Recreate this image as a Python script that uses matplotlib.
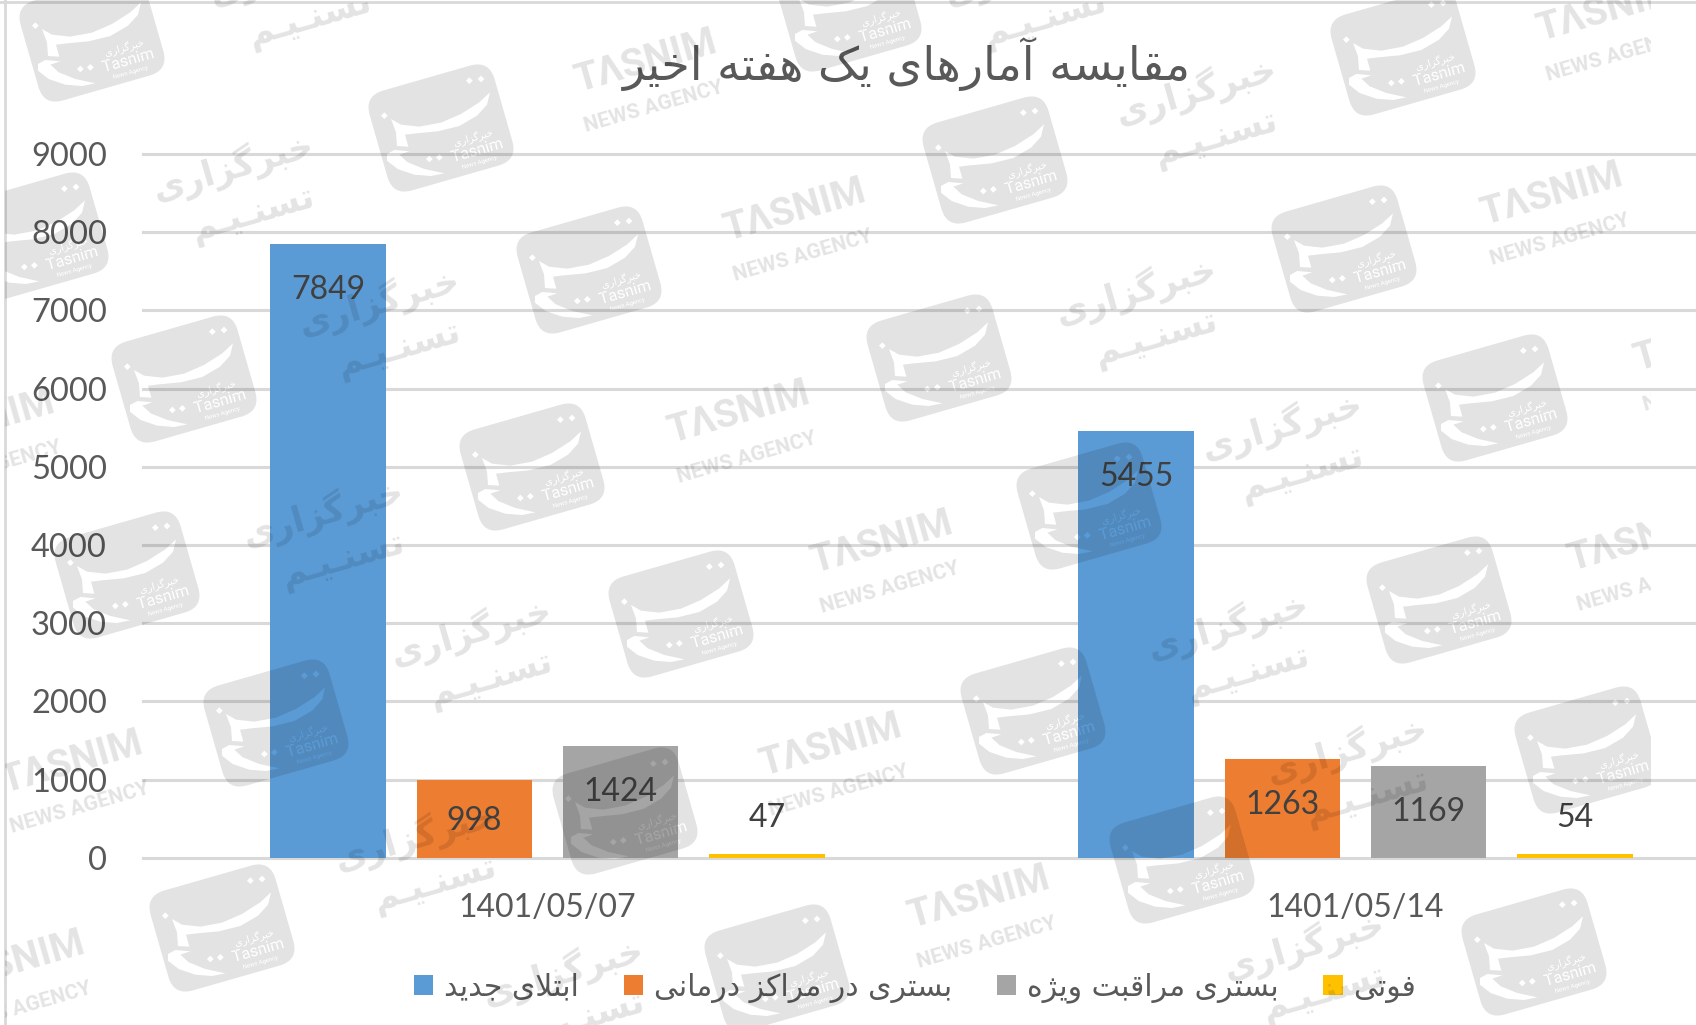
import matplotlib
matplotlib.use("Agg")
import matplotlib.pyplot as plt
from matplotlib.font_manager import FontProperties
from matplotlib.lines import Line2D
from matplotlib.patches import FancyBboxPatch, PathPatch
from matplotlib.path import Path
from matplotlib.text import TextPath
from matplotlib.transforms import Affine2D

categories = ["1401/05/07", "1401/05/14"]
series_names = ["ابتلای جدید", "بستری در مراکز درمانی", "بستری مراقبت ویژه", "فوتی"]
new_cases = [7849, 5455]
hospitalized = [998, 1263]
intensive_care = [1424, 1169]
deaths = [47, 54]
series_values = [new_cases, hospitalized, intensive_care, deaths]
series_colors = ["#5B9BD5", "#ED7D31", "#A5A5A5", "#FFC000"]
y_ticks = [0, 1000, 2000, 3000, 4000, 5000, 6000, 7000, 8000, 9000]
title = "مقایسه آمارهای یک هفته اخیر"

# watermark centres, pixels of the full image
logo_centres = [(92, 38), (441, 128), (995, 160), (1403, 52), (849, 8), (36, 236), (589, 270),
                (1344, 249), (184, 379), (939, 358), (1495, 398), (532, 467), (1089, 506),
                (127, 575), (681, 614), (1439, 600), (276, 723), (1033, 711), (1587, 750),
                (625, 811), (1182, 860), (222, 928), (777, 968), (1534, 952)]
text_centres = [(646, 78), (1608, 27), (795, 227), (1552, 211), (739, 429), (1705, 357),
                (882, 559), (1639, 557), (72, 779), (831, 762), (979, 914), (14, 979), (-16, 438)]
fa_centres = [(243, 190), (1206, 114), (300, -5), (389, 325), (1146, 314), (1292, 449),
              (333, 536), (1238, 649), (481, 655), (425, 860), (1357, 773), (1314, 969),
              (573, 995), (1035, -5)]

FORMS = {
    "ا": "\uFE8D\uFE8E", "آ": "\uFE81\uFE82", "د": "\uFEA9\uFEAA", "ر": "\uFEAD\uFEAE",
    "ز": "\uFEAF\uFEB0", "ژ": "\uFB8A\uFB8B", "و": "\uFEED\uFEEE", "\uFEFB": "\uFEFB\uFEFC",
    "ب": "\uFE8F\uFE90\uFE91\uFE92", "ت": "\uFE95\uFE96\uFE97\uFE98",
    "ج": "\uFE9D\uFE9E\uFE9F\uFEA0", "خ": "\uFEA5\uFEA6\uFEA7\uFEA8",
    "س": "\uFEB1\uFEB2\uFEB3\uFEB4", "ف": "\uFED1\uFED2\uFED3\uFED4",
    "ق": "\uFED5\uFED6\uFED7\uFED8", "ک": "\uFB8E\uFB8F\uFB90\uFB91",
    "گ": "\uFB92\uFB93\uFB94\uFB95", "م": "\uFEE1\uFEE2\uFEE3\uFEE4",
    "ن": "\uFEE5\uFEE6\uFEE7\uFEE8", "ه": "\uFEE9\uFEEA\uFEEB\uFEEC",
    "ی": "\uFBFC\uFBFD\uFBFE\uFBFF", "ـ": "ــــ",
}


def fa(text):
    # matplotlib does no arabic shaping, so pick the joined glyphs and reverse
    text = text.replace("لا", "\uFEFB")
    out = []
    for i, ch in enumerate(text):
        forms = FORMS.get(ch)
        if forms is None:
            out.append(ch)
            continue
        prev = text[i - 1] if i > 0 else " "
        nxt = text[i + 1] if i + 1 < len(text) else " "
        join_prev = prev in FORMS and len(FORMS[prev]) == 4
        join_next = nxt in FORMS and len(forms) == 4
        if join_prev and join_next:
            out.append(forms[3])
        elif join_prev:
            out.append(forms[1])
        elif join_next:
            out.append(forms[2])
        else:
            out.append(forms[0])
    return "".join(out)[::-1]


W, H = 1696, 1025
TEXT_COLOR = "#595959"
GRID_COLOR = "#D9D9D9"
LATIN = ["Lato", "DejaVu Sans"]

fig = plt.figure(figsize=(W / 100, H / 100), dpi=100)

ax = fig.add_axes([143 / W, 1 - 857.8 / H, (W - 143) / W, (857.8 - 154) / H])
bar_width = 0.143
offsets = [-0.271, -0.09, 0.091, 0.272]
for k, values in enumerate(series_values):
    xs = [i + offsets[k] for i in range(len(categories))]
    ax.bar(xs, values, bar_width, color=series_colors[k], label=fa(series_names[k]), zorder=3)
    for x, v in zip(xs, values):
        if v >= 1000:
            dy = -46
        elif v > 500:
            dy = -41
        else:
            dy = 36
        ax.annotate(str(v), (x, v), xytext=(0, dy), textcoords="offset pixels", ha="center",
                    va="center", fontsize=23, family=LATIN, color="#404040", zorder=5)

ax.set_xlim(-0.5, (W - 143) / 808 - 0.5)
ax.set_ylim(0, 9000)
ax.set_yticks(y_ticks)
ax.set_xticks(range(len(categories)))
ax.set_xticklabels(categories)
ax.tick_params(axis="y", length=0, pad=26, labelsize=23.5, labelcolor=TEXT_COLOR)
ax.tick_params(axis="x", length=0, pad=25, labelsize=23, labelcolor=TEXT_COLOR)
for lab in ax.get_xticklabels() + ax.get_yticklabels():
    lab.set_family(LATIN)
ax.grid(axis="y", color=GRID_COLOR, linewidth=2.2, zorder=1)
ax.set_axisbelow(True)
for side in ax.spines:
    ax.spines[side].set_visible(False)
for gl in ax.get_ygridlines():
    gl.set_clip_on(False)

fig.text(907 / W, 1 - 65 / H, fa(title), fontsize=33, color=TEXT_COLOR, ha="center", va="center",
         family="DejaVu Sans")

handles, labels = ax.get_legend_handles_labels()
fig.legend(handles, labels, ncol=4, loc="center", bbox_to_anchor=(915 / W, 1 - 988 / H), frameon=False,
           prop={"family": "DejaVu Sans", "size": 21.5}, labelcolor=TEXT_COLOR, handlelength=0.65,
           handleheight=0.65, handletextpad=0.36, columnspacing=1.5)

# frame of the pasted picture
fig.add_artist(Line2D([4.5 / W, 4.5 / W], [0, 1], color=GRID_COLOR, linewidth=2))
fig.add_artist(Line2D([0, 1], [1 - 1.5 / H, 1 - 1.5 / H], color=GRID_COLOR, linewidth=2))

# watermark layer, in pixels, cut off at x=1651 like the original
wm = fig.add_axes([5 / W, 0, 1646 / W, 1], zorder=10)
wm.set_xlim(5, 1651)
wm.set_ylim(H, 0)
wm.patch.set_alpha(0)
wm.axis("off")
WM_ALPHA = 0.11
ANGLE = 16

crescent = [(437, 135), (428, 172), (398, 205), (345, 236), (280, 252), (215, 258), (182, 262), (192, 298),
            (158, 296), (155, 255), (140, 215), (170, 232), (225, 238), (290, 226), (350, 200), (405, 165)]
sweep = [(195, 312), (165, 322), (190, 345), (240, 365), (300, 378), (260, 386), (210, 382), (160, 365),
         (128, 340), (128, 320), (150, 308)]
dots = [(375, 100), (410, 95), (120, 205), (255, 335), (285, 330)]


def cutout(points):
    return Path([((x - 290) / 3, (y - 242) / 3) for x, y in points] + [(0, 0)], closed=True)


def label_hole(text, size, family, x, y):
    tp = TextPath((0, 0), text, size=size, prop=FontProperties(family=family))
    box = tp.get_extents()
    return tp.transformed(Affine2D().translate(-box.x0 - box.width / 2, 0).scale(1, -1)
                          .rotate_deg(-ANGLE).translate(x, y))


body = FancyBboxPatch((-65, -52), 130, 104, boxstyle="round,pad=0,rounding_size=20").get_path()
body = body.transformed(Affine2D().scale(-1, 1).rotate_deg(-ANGLE))
pieces = [body, cutout(crescent), cutout(sweep)]
for x, y in dots:
    pieces.append(cutout([(x, y - 10), (x + 10, y), (x, y + 10), (x - 10, y)]))
pieces.append(label_hole("Tasnim", 16, "Roboto", 37, 27))
pieces.append(label_hole("News Agency", 6, "Roboto", 39, 36))
pieces.append(label_hole(fa("خبرگزاری"), 10, "DejaVu Sans", 33, 13))
logo = Path.make_compound_path(*pieces)

for cx, cy in logo_centres:
    tr = Affine2D().translate(cx, cy) + wm.transData
    wm.add_patch(PathPatch(logo, fc="black", ec="none", alpha=WM_ALPHA, transform=tr))

WM_FONT = {"rotation": ANGLE, "ha": "center", "va": "center", "rotation_mode": "anchor", "color": "black",
           "alpha": WM_ALPHA, "clip_on": True, "fontweight": "bold"}

for cx, cy in text_centres:
    wm.text(cx, cy - 16, "TΛSNIM", fontsize=28, family="Roboto", **WM_FONT)
    wm.text(cx + 8, cy + 29, "NEWS AGENCY", fontsize=15, family="Roboto", **WM_FONT)

for cx, cy in fa_centres:
    wm.text(cx - 10, cy - 24, fa("خبرگزاری"), fontsize=25, family="DejaVu Sans", **WM_FONT)
    wm.text(cx + 10, cy + 24, fa("تسنـیـم"), fontsize=25, family="DejaVu Sans", **WM_FONT)

fig.savefig("out.png", dpi=100)
plt.close(fig)
